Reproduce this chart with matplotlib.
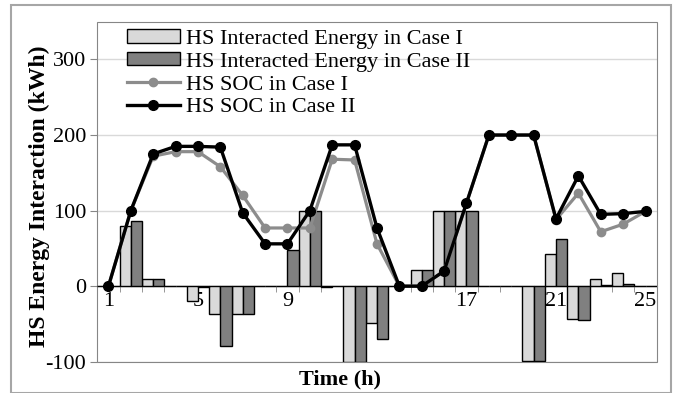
import numpy as np
import matplotlib.pyplot as plt
from matplotlib.patches import Rectangle

# Hourly data
hours = np.arange(1, 26)
energy_case1 = [0, 80, 9, 0, -19, -37, -37, 0, 0, 100, -1, -100, -49, 0, 22,
                100, 100, 0, 0, -99, 42, -44, 10, 18, 0]
energy_case2 = [0, 86, 9, 0, -1, -79, -37, 0, 48, 100, 0, -100, -70, 0, 22,
                100, 100, 0, 0, -99, 62, -45, 2, 3, 0]
soc_case1 = [0, 100, 172, 178, 178, 158, 120, 77, 77, 77, 168, 167, 56, 0, 0,
             20, 110, 200, 200, 200, 88, 123, 72, 82, 99]
soc_case2 = [0, 100, 175, 185, 185, 184, 97, 56, 56, 100, 187, 187, 77, 0, 0,
             20, 110, 200, 200, 200, 89, 146, 95, 96, 99]
tick_hours = [1, 5, 9, 13, 17, 21, 25]
y_ticks = [-100, 0, 100, 200, 300]

plt.rcParams['font.family'] = 'Liberation Serif'
plt.rcParams['axes.unicode_minus'] = False

fig = plt.figure(figsize=(6.77, 3.93), dpi=100)
ax = fig.add_axes([0.1437, 0.0796, 0.8263, 0.8652])

frame_col = '#868686'

# bars (clustered, no gap)
b1 = ax.bar(hours - 0.25, energy_case1, width=0.5, color='#d9d9d9',
            edgecolor='black', linewidth=1.0, zorder=2)
b2 = ax.bar(hours + 0.25, energy_case2, width=0.5, color='#808080',
            edgecolor='black', linewidth=1.0, zorder=2)

# SOC lines
l1, = ax.plot(hours, soc_case1, color='#8c8c8c', lw=2.3, marker='o', ms=6, zorder=3)
l2, = ax.plot(hours, soc_case2, color='black', lw=2.4, marker='o', ms=7, zorder=4)

ax.set_xlim(0.5, 25.5)
ax.set_ylim(-100, 350)

ax.yaxis.grid(True, color='#d9d9d9', lw=1)
ax.set_axisbelow(True)

for s in ['top', 'right', 'left']:
    ax.spines[s].set_visible(False)
ax.spines['bottom'].set_position(('data', 0))
ax.spines['bottom'].set_color(frame_col)
ax.spines['bottom'].set_zorder(1)
ax.add_patch(Rectangle((0, 0), 1, 1, transform=ax.transAxes, fill=False,
                       edgecolor=frame_col, lw=0.8, clip_on=False, zorder=1))

ax.set_xticks(tick_hours)
ax.set_xticks(np.arange(0.5, 26), minor=True)
ax.tick_params(axis='x', which='major', length=0, pad=4, labelsize=16)
ax.tick_params(axis='x', which='minor', length=4, color=frame_col, direction='out')
ax.set_yticks(y_ticks)
ax.tick_params(axis='y', length=5, color=frame_col, labelsize=16, pad=3)

ax.legend([b1, b2, l1, l2],
          ['HS Interacted Energy in Case I', 'HS Interacted Energy in Case II',
           'HS SOC in Case I', 'HS SOC in Case II'],
          loc='upper left', bbox_to_anchor=(0.0526, 0.978), frameon=False,
          fontsize=16, handlelength=2.4, handleheight=0.55, labelspacing=0.15,
          handletextpad=0.27, borderaxespad=0, borderpad=0)

fig.text(340 / 677, 1 - 379 / 393, 'Time (h)', ha='center', va='center',
         fontsize=16, fontweight='bold')
fig.text(39 / 677, 1 - 196 / 393, 'HS Energy Interaction (kWh)', rotation=90,
         ha='center', va='center', fontsize=17, fontweight='bold')

# outer chart border
fig.add_artist(Rectangle((11 / 677, 0), 660 / 677, 388 / 393,
                         transform=fig.transFigure, fill=False,
                         edgecolor='#a6a6a6', lw=1.5))

fig.savefig('out.png', dpi=100)
